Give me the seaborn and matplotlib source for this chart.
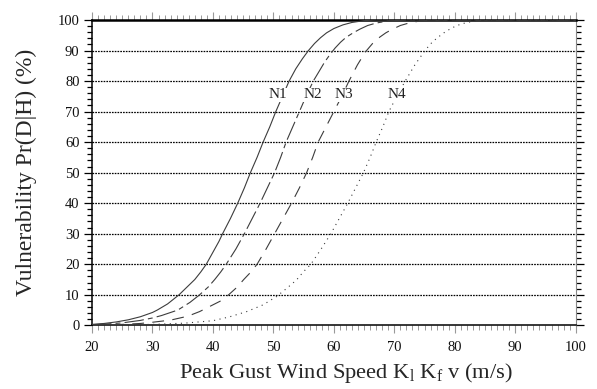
import numpy as np
import pandas as pd
import matplotlib
matplotlib.use("Agg")
import matplotlib.pyplot as plt
import seaborn as sns
from matplotlib.ticker import MultipleLocator

# ---------------- data ----------------
curve_names = ["N1", "N2", "N3", "N4"]

n1_speed = [20, 22, 24, 26, 28, 30, 30.8, 32.5, 34.4, 35.7, 37.0, 38.0, 38.9, 39.6,
            40.3, 41.0, 41.6, 42.9, 44.1, 45.2, 46.2, 47.3, 48.3, 49.4, 50.4, 51.5,
            52.6, 53.7, 54.8, 55.8, 56.8, 57.8, 58.8, 60, 61.5, 63, 65, 67, 100]
n1_prob = [0.3, 0.6, 1.1, 1.8, 2.8, 4.2, 5, 7, 10, 12.5, 15, 17.5, 20, 22.5,
           25, 27.5, 30, 35, 40, 45, 50, 55, 60, 65, 70, 75,
           80, 84, 87.3, 90, 92.3, 94.2, 95.8, 97.2, 98.4, 99.2, 99.8, 100, 100]

n2_speed = [20, 23, 25, 28, 30, 31.5, 33, 34.2, 36.2, 37.8, 39.2, 40.3, 41.3, 42.2,
            43.8, 45.2, 46.5, 47.8, 49, 50.2, 51.2, 52.1, 53.2, 54.3, 55.4,
            56.6, 57.6, 58.5, 59.4, 60.2, 61.1, 62, 63.2, 64.3, 65.6, 67, 69, 72, 100]
n2_prob = [0.2, 0.5, 0.8, 1.6, 2.4, 3.2, 4.2, 5, 7.5, 10, 12.5, 15, 17.5, 20,
           25, 30, 35, 40, 45, 50, 55, 60, 65, 70, 75,
           80, 83.3, 86.3, 88.8, 90.8, 92.7, 94.3, 95.8, 97, 98.2, 99, 99.7, 100, 100]

n3_speed = [20, 25, 28, 30, 33, 35, 36, 37.8, 39.6, 41.3, 42.6, 44.0, 45.1, 46.3,
            47.3, 48.8, 50.2, 51.6, 53.0, 54.3, 55.5, 56.5, 57.4, 58.7, 60, 61.3,
            62.5, 63.9, 65.2, 66.4, 67.6, 68.6, 69.6, 71, 72.4, 74, 76, 78, 100]
n3_prob = [0.1, 0.3, 0.6, 1, 1.7, 2.6, 3.1, 4.5, 6.3, 8, 10, 12.5, 15, 17.5,
           20, 25, 30, 35, 40, 45, 50, 55, 60, 65, 70, 75,
           80, 85.3, 89.5, 92.3, 94.4, 95.8, 96.9, 98.2, 99, 99.6, 99.9, 100, 100]

n4_speed = [20, 25, 30, 35.3, 40, 42.8, 45.6, 48.3, 50.5, 52.2, 53.8, 55, 56.2, 57.9,
            59.5, 60.9, 62.3, 63.6, 64.9, 66, 67, 68.1, 69.1, 70.4, 71.8, 73.4, 75,
            76, 77, 78.2, 79.5, 80.8, 82, 83.5, 85, 100]
n4_prob = [0.05, 0.15, 0.3, 0.7, 1.5, 2.8, 4.5, 6.7, 9.4, 12.1, 14.8, 17.6, 20, 25,
           30, 35, 40, 45, 50, 55, 60, 65, 70, 75, 80, 85.3, 89.8,
           92.2, 94, 95.8, 97.4, 98.5, 99.2, 99.7, 100, 100]

x_ticks = [20, 30, 40, 50, 60, 70, 80, 90, 100]
y_ticks = [0, 10, 20, 30, 40, 50, 60, 70, 80, 90, 100]

# ---------------- style ----------------
sns.set_theme(style="white")
plt.rcParams["font.family"] = ["Liberation Serif", "DejaVu Serif"]
plt.rcParams["lines.scale_dashes"] = False
plt.rcParams["mathtext.fontset"] = "custom"
plt.rcParams["mathtext.rm"] = "Liberation Serif"
plt.rcParams["mathtext.it"] = "Liberation Serif:italic"

frames = []
for name, sp, pr in zip(curve_names,
                        [n1_speed, n2_speed, n3_speed, n4_speed],
                        [n1_prob, n2_prob, n3_prob, n4_prob]):
    frames.append(pd.DataFrame({"speed": sp, "prob": pr, "curve": name}))
df = pd.concat(frames, ignore_index=True)

dash_map = {"N1": "", "N2": (14, 3, 3.5, 3), "N3": (8.5, 6), "N4": (0.8, 3.2)}

fig = plt.figure(figsize=(5.97, 3.89), dpi=100)
ax = fig.add_axes([92 / 597, 1 - 325.3 / 389, (575.7 - 92) / 597, (325.3 - 20) / 389])

# grid lines
for yv in y_ticks[1:-1]:
    ax.axhline(yv, color="black", lw=0.9, ls=(0, (1.2, 0.8)), zorder=1)

sns.lineplot(data=df, x="speed", y="prob", style="curve", dashes=dash_map,
             color="#3c3c3c", linewidth=0.8, legend=False, ax=ax,
             estimator=None, sort=False, zorder=3)

ax.set_xlim(20, 100)
ax.set_ylim(0, 100)
ax.set_xticks(x_ticks)
ax.set_yticks(y_ticks)
ax.xaxis.set_minor_locator(MultipleLocator(1))
ax.yaxis.set_minor_locator(MultipleLocator(2))

ax.tick_params(axis="both", which="both", direction="out", labelsize=10.5, pad=3)
ax.tick_params(axis="y", which="major", left=True, right=True, length=6,
               width=0.9, color="black", labelcolor="#111111")
ax.tick_params(axis="y", which="minor", left=True, right=True, length=3.5,
               width=0.9, color="black")
ax.tick_params(axis="x", which="major", bottom=True, top=True, length=6,
               width=0.8, color="#999999", labelcolor="#111111", pad=5)
ax.tick_params(axis="x", which="minor", bottom=True, top=True, length=3.5,
               width=0.7, color="#999999")

for side in ["left", "bottom"]:
    ax.spines[side].set_color("black")
    ax.spines[side].set_linewidth(1.1)
ax.spines["top"].set_color("black")
ax.spines["top"].set_linewidth(1.8)
ax.spines["right"].set_color("#888888")
ax.spines["right"].set_linewidth(0.8)

ax.set_xlabel(r"Peak Gust Wind Speed K$_\mathregular{l}$ K$_\mathregular{f}$ v (m/s)",
              fontsize=16.2)
ax.set_ylabel("Vulnerability Pr(D|H) (%)", fontsize=17)
ax.xaxis.set_label_coords(0.524, -0.118)
ax.yaxis.set_label_coords(-0.114, 0.5)

# curve labels
label_x = [50.8, 56.5, 61.7, 70.5]
label_y = 75.5
for name, lx in zip(curve_names, label_x):
    ax.text(lx, label_y, name, ha="center", va="center", fontsize=11,
            color="#222222", zorder=4,
            bbox=dict(fc="white", ec="none", pad=0.6))

fig.savefig("out.png", dpi=100)
